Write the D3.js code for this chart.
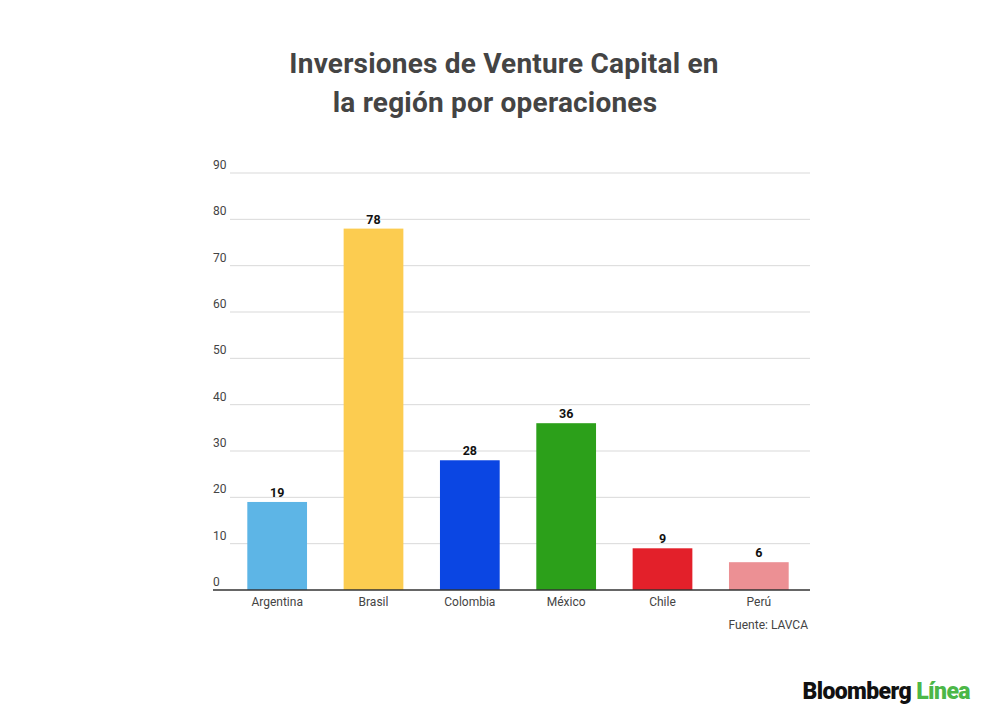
<!DOCTYPE html>
<html>
<head>
<meta charset="utf-8">
<script src="https://cdn.jsdelivr.net/npm/d3@7"></script>
<style>
  body { margin: 0; background: #fff; }
  text { font-family: Roboto, "Noto Sans", sans-serif; }
</style>
</head>
<body>
<div class="bar_chart"></div>
<script>
var paises = ["Argentina", "Brasil", "Colombia", "México", "Chile", "Perú"];
var operaciones = [19, 78, 28, 36, 9, 6];
var colores = ["#5db5e6", "#fccc50", "#0b46e3", "#2ca01a", "#e3202a", "#ec9094"];
var ticks_y = [0, 10, 20, 30, 40, 50, 60, 70, 80, 90];
var titulo = ["Inversiones de Venture Capital en", "la región por operaciones"];
var fuente = "Fuente: LAVCA";

var width = 1000, height = 720;
var svg = d3
  .select(".bar_chart")
  .append("svg")
  .attr("width", width)
  .attr("height", height);

// scales
var x = d3.scaleBand().domain(paises).range([229, 807]).paddingInner(0.38).paddingOuter(0.19);
var y = d3.scaleLinear().domain([0, 90]).range([590, 173]);

// title
svg.append("text")
  .attr("x", 504).attr("y", 73)
  .attr("text-anchor", "middle")
  .attr("font-size", "28px").attr("font-weight", "bold")
  .attr("letter-spacing", "0.2px")
  .attr("fill", "#444")
  .text(titulo[0]);
svg.append("text")
  .attr("x", 495).attr("y", 112)
  .attr("text-anchor", "middle")
  .attr("font-size", "28px").attr("font-weight", "bold")
  .attr("letter-spacing", "0.2px")
  .attr("fill", "#444")
  .text(titulo[1]);

// gridlines + tick labels
var grid = svg.append("g").attr("class", "grid");
grid.selectAll("line")
  .data(ticks_y.filter(function (d) { return d > 0; }))
  .enter()
  .append("line")
  .attr("x1", 230).attr("x2", 810)
  .attr("y1", function (d) { return y(d); })
  .attr("y2", function (d) { return y(d); })
  .style("stroke", "#d9d9d9")
  .style("stroke-width", "1px");
grid.selectAll("text")
  .data(ticks_y)
  .enter()
  .append("text")
  .attr("x", 213)
  .attr("y", function (d) { return y(d) - 4; })
  .attr("font-size", "12px")
  .attr("fill", "#444")
  .text(function (d) { return d; });

// bars
var bars = svg.append("g").attr("class", "bars");
bars.selectAll("rect")
  .data(paises)
  .enter()
  .append("rect")
  .attr("x", function (d) { return x(d); })
  .attr("width", x.bandwidth())
  .attr("y", function (d, i) { return y(operaciones[i]); })
  .attr("height", function (d, i) { return y(0) - y(operaciones[i]); })
  .attr("fill", function (d, i) { return colores[i]; });

// value labels
bars.selectAll("text")
  .data(paises)
  .enter()
  .append("text")
  .attr("x", function (d) { return x(d) + x.bandwidth() / 2; })
  .attr("y", function (d, i) { return y(operaciones[i]) - 5; })
  .attr("text-anchor", "middle")
  .attr("font-size", "12.5px").attr("font-weight", "bold")
  .attr("fill", "#111")
  .text(function (d, i) { return operaciones[i]; });

// baseline
svg.append("line")
  .attr("x1", 213).attr("x2", 810)
  .attr("y1", y(0)).attr("y2", y(0))
  .style("stroke", "#333")
  .style("stroke-width", "1.5px");

// x axis labels
svg.append("g")
  .attr("class", "x axis")
  .selectAll("text")
  .data(paises)
  .enter()
  .append("text")
  .attr("x", function (d) { return x(d) + x.bandwidth() / 2; })
  .attr("y", 606)
  .attr("text-anchor", "middle")
  .attr("font-size", "12px")
  .attr("fill", "#444")
  .text(function (d) { return d; });

// source
svg.append("text")
  .attr("x", 808).attr("y", 629)
  .attr("text-anchor", "end")
  .attr("font-size", "12px")
  .attr("fill", "#444")
  .text(fuente);

// logo
var logo = svg.append("text")
  .attr("x", 970).attr("y", 699)
  .attr("text-anchor", "end")
  .attr("font-family", "Inter, Roboto, sans-serif")
  .attr("font-size", "23px").attr("font-weight", "900")
  .attr("letter-spacing", "-0.6px");
logo.append("tspan").attr("fill", "#111").text("Bloomberg ");
logo.append("tspan").attr("fill", "#4cb748").text("Línea");
</script>
</body>
</html>
